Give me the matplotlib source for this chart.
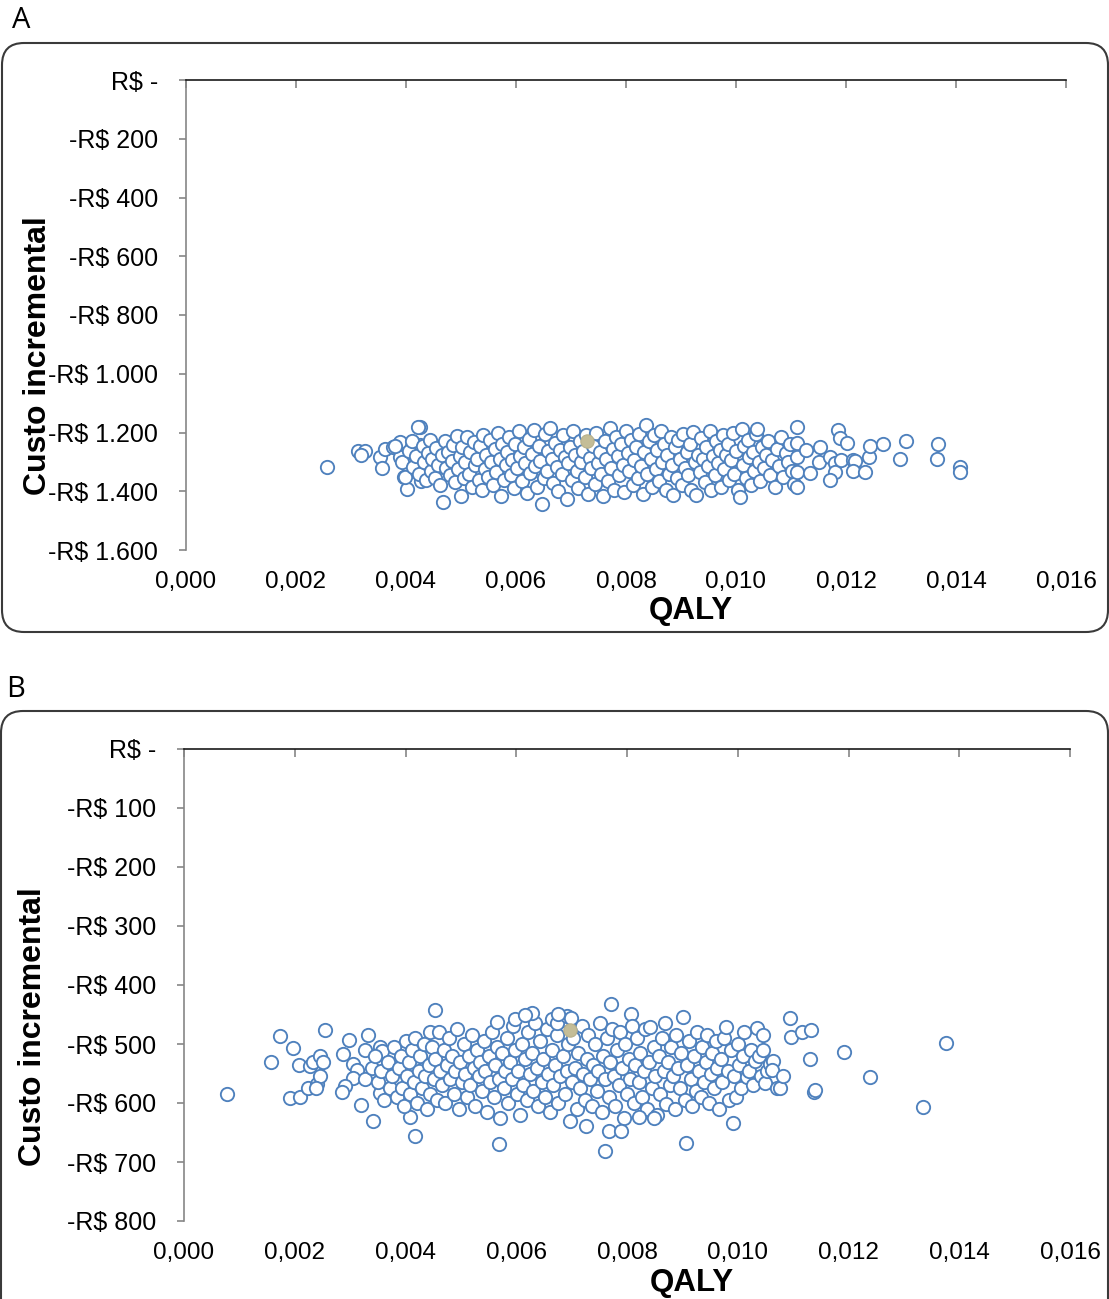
import matplotlib
matplotlib.use("Agg")
import matplotlib.pyplot as plt
from matplotlib.patches import FancyBboxPatch

# ---------------- DATA ----------------
# Panel A: (incremental QALY, incremental cost R$)
pontos_a_esquerda = [
    (0.00256, -1318), (0.00313, -1262), (0.00325, -1262), (0.00318, -1275),
    (0.00353, -1282), (0.00356, -1321), (0.00362, -1257), (0.00376, -1248),
    (0.00389, -1231), (0.00389, -1282), (0.00396, -1350), (0.00402, -1311),
    (0.00402, -1392), (0.00410, -1246), (0.00425, -1243), (0.00425, -1182),
    (0.00430, -1304), (0.00427, -1365),
]
pontos_a_nucleo = [
    (0.00380, -1245), (0.00392, -1300), (0.00398, -1350), (0.00405, -1262), (0.00410, -1228),
    (0.00412, -1318), (0.00418, -1280), (0.00421, -1182), (0.00424, -1340),
    (0.00430, -1246), (0.00433, -1300), (0.00436, -1362), (0.00440, -1270), (0.00443, -1225),
    (0.00445, -1330), (0.00448, -1290), (0.00452, -1355), (0.00455, -1252), (0.00458, -1310),
    (0.00462, -1380), (0.00468, -1435), (0.00465, -1278),
    (0.00470, -1230), (0.00473, -1320), (0.00476, -1265), (0.00480, -1345), (0.00483, -1296),
    (0.00486, -1242), (0.00489, -1370), (0.00492, -1212), (0.00495, -1325), (0.00498, -1280),
    (0.00500, -1416), (0.00502, -1250), (0.00505, -1355),
    (0.00508, -1300), (0.00511, -1215), (0.00514, -1340), (0.00517, -1268), (0.00520, -1385),
    (0.00523, -1232), (0.00526, -1310), (0.00529, -1290), (0.00532, -1360), (0.00535, -1245),
    (0.00538, -1395), (0.00540, -1208), (0.00543, -1325),
    (0.00546, -1275), (0.00549, -1350), (0.00552, -1225), (0.00555, -1300), (0.00558, -1378),
    (0.00561, -1255), (0.00564, -1335), (0.00567, -1200), (0.00570, -1290), (0.00572, -1416),
    (0.00575, -1240), (0.00578, -1360), (0.00581, -1310),
    (0.00584, -1268), (0.00587, -1215), (0.00590, -1345), (0.00593, -1292), (0.00596, -1388),
    (0.00599, -1238), (0.00602, -1322), (0.00605, -1196), (0.00608, -1280), (0.00611, -1365),
    (0.00614, -1250), (0.00617, -1305), (0.00620, -1405),
    (0.00623, -1222), (0.00626, -1338), (0.00629, -1272), (0.00632, -1190), (0.00635, -1315),
    (0.00638, -1385), (0.00641, -1245), (0.00644, -1298), (0.00647, -1445), (0.00650, -1355),
    (0.00653, -1205), (0.00656, -1330), (0.00659, -1262),
    (0.00662, -1185), (0.00665, -1290), (0.00668, -1372), (0.00671, -1235), (0.00674, -1318),
    (0.00677, -1400), (0.00680, -1258), (0.00683, -1342), (0.00686, -1210), (0.00689, -1285),
    (0.00692, -1425), (0.00695, -1305), (0.00698, -1248),
    (0.00701, -1360), (0.00704, -1195), (0.00707, -1275), (0.00710, -1332), (0.00713, -1390),
    (0.00716, -1228), (0.00719, -1300), (0.00722, -1262), (0.00725, -1350), (0.00728, -1210),
    (0.00731, -1408), (0.00734, -1288), (0.00737, -1320),
    (0.00740, -1245), (0.00743, -1375), (0.00746, -1200), (0.00749, -1305), (0.00752, -1268),
    (0.00755, -1340), (0.00758, -1415), (0.00761, -1230), (0.00764, -1290), (0.00767, -1365),
    (0.00770, -1185), (0.00773, -1320), (0.00776, -1255),
    (0.00779, -1395), (0.00782, -1215), (0.00785, -1280), (0.00788, -1345), (0.00791, -1240),
    (0.00794, -1310), (0.00797, -1402), (0.00800, -1195), (0.00803, -1270), (0.00806, -1330),
    (0.00809, -1225), (0.00812, -1380), (0.00815, -1295),
    (0.00818, -1250), (0.00821, -1355), (0.00824, -1205), (0.00827, -1315), (0.00830, -1410),
    (0.00833, -1265), (0.00836, -1174), (0.00839, -1340), (0.00842, -1230), (0.00845, -1290),
    (0.00848, -1385), (0.00851, -1210), (0.00854, -1325),
    (0.00857, -1260), (0.00860, -1365), (0.00863, -1195), (0.00866, -1300), (0.00869, -1240),
    (0.00872, -1395), (0.00875, -1275), (0.00878, -1340), (0.00881, -1215), (0.00884, -1310),
    (0.00886, -1413), (0.00889, -1250), (0.00892, -1355),
    (0.00895, -1225), (0.00898, -1290), (0.00901, -1380), (0.00904, -1205), (0.00907, -1320),
    (0.00910, -1265), (0.00913, -1345), (0.00916, -1238), (0.00919, -1395), (0.00922, -1197),
    (0.00925, -1300), (0.00928, -1413), (0.00931, -1275),
    (0.00934, -1335), (0.00937, -1218), (0.00940, -1290), (0.00943, -1370), (0.00946, -1250),
    (0.00949, -1315), (0.00952, -1195), (0.00955, -1395), (0.00958, -1280), (0.00961, -1345),
    (0.00964, -1230), (0.00967, -1305), (0.00970, -1260),
    (0.00973, -1385), (0.00976, -1210), (0.00979, -1325), (0.00982, -1275), (0.00985, -1240),
    (0.00988, -1360), (0.00991, -1295), (0.00994, -1200), (0.00997, -1340), (0.01000, -1262),
    (0.01003, -1395), (0.01007, -1421), (0.01010, -1189),
    (0.01012, -1310), (0.01015, -1245), (0.01018, -1355), (0.01021, -1225), (0.01024, -1285),
    (0.01027, -1380), (0.01030, -1265), (0.01033, -1330), (0.01036, -1205), (0.01038, -1189),
    (0.01041, -1300), (0.01044, -1365), (0.01047, -1250),
    (0.01050, -1320), (0.01054, -1275), (0.01058, -1230), (0.01062, -1345), (0.01066, -1295),
    (0.01070, -1385), (0.01074, -1255), (0.01078, -1315), (0.01082, -1215), (0.01086, -1350),
    (0.01090, -1270), (0.01094, -1300), (0.01098, -1240),
]
pontos_a_direita = [
    (0.01102, -1330), (0.01106, -1375), (0.01110, -1182), (0.01111, -1236), (0.01111, -1282),
    (0.01110, -1333), (0.01110, -1384), (0.01127, -1260), (0.01135, -1339), (0.01150, -1299),
    (0.01153, -1248), (0.01170, -1282), (0.01180, -1304), (0.01180, -1334), (0.01170, -1362),
    (0.01186, -1191), (0.01189, -1220), (0.01190, -1294), (0.01201, -1237), (0.01213, -1294),
    (0.01216, -1296), (0.01213, -1330), (0.01235, -1336), (0.01241, -1285), (0.01244, -1246),
    (0.01267, -1239), (0.01299, -1291), (0.01309, -1229), (0.01366, -1291), (0.01368, -1239),
    (0.01407, -1316), (0.01407, -1336),
]
ponto_medio_a = (0.00729, -1229)

# Panel B
pontos_b_esquerda = [
    (0.00077, -585), (0.00158, -531), (0.00173, -486), (0.00197, -506), (0.00191, -592),
    (0.00209, -590), (0.00208, -536), (0.00224, -575), (0.00228, -538), (0.00233, -530),
    (0.00246, -521), (0.00251, -530), (0.00240, -567), (0.00245, -554), (0.00239, -575),
    (0.00255, -476), (0.00287, -517), (0.00298, -493), (0.00306, -534), (0.00312, -544),
    (0.00306, -558), (0.00291, -572), (0.00285, -581), (0.00319, -603), (0.00341, -631),
    (0.00327, -560), (0.00332, -485), (0.00327, -510), (0.00354, -505), (0.00357, -512),
    (0.00354, -583), (0.00408, -623), (0.00417, -656), (0.00453, -442), (0.00444, -479),
]
pontos_b_nucleo = [
    (0.00340, -540), (0.00345, -520), (0.00350, -565), (0.00355, -545), (0.00362, -595),
    (0.00368, -530), (0.00372, -575), (0.00376, -555), (0.00380, -505), (0.00384, -590),
    (0.00388, -540), (0.00391, -520), (0.00394, -575), (0.00397, -605), (0.00400, -495),
    (0.00403, -555), (0.00406, -530), (0.00409, -585), (0.00412, -510), (0.00415, -565),
    (0.00418, -490), (0.00421, -600), (0.00424, -545),
    (0.00427, -520), (0.00430, -575), (0.00433, -500), (0.00436, -555), (0.00439, -610),
    (0.00442, -535), (0.00445, -585), (0.00448, -505), (0.00451, -560), (0.00454, -525),
    (0.00457, -595), (0.00460, -480), (0.00463, -545),
    (0.00466, -570), (0.00469, -510), (0.00472, -600), (0.00475, -535), (0.00478, -490),
    (0.00481, -560), (0.00484, -520), (0.00487, -585), (0.00490, -545), (0.00493, -475),
    (0.00496, -610), (0.00499, -530), (0.00502, -565),
    (0.00505, -500), (0.00508, -550), (0.00511, -590), (0.00514, -520), (0.00517, -570),
    (0.00520, -485), (0.00523, -540), (0.00526, -605), (0.00529, -510), (0.00532, -555),
    (0.00535, -530), (0.00538, -580), (0.00541, -495),
    (0.00544, -545), (0.00547, -615), (0.00550, -520), (0.00553, -565), (0.00556, -480),
    (0.00559, -590), (0.00562, -535), (0.00565, -505), (0.00568, -560), (0.00571, -625),
    (0.00574, -515), (0.00577, -575), (0.00580, -545),
    (0.00583, -490), (0.00586, -600), (0.00589, -530), (0.00592, -560), (0.00595, -470),
    (0.00598, -510), (0.00601, -585), (0.00604, -545), (0.00607, -620), (0.00610, -500),
    (0.00613, -570), (0.00616, -525), (0.00619, -595), (0.00622, -480),
    (0.00625, -550), (0.00628, -515), (0.00631, -580), (0.00634, -465), (0.00637, -540),
    (0.00640, -605), (0.00643, -495), (0.00646, -565), (0.00649, -525), (0.00652, -590),
    (0.00655, -475), (0.00658, -550), (0.00661, -615),
    (0.00664, -510), (0.00667, -570), (0.00670, -535), (0.00673, -485), (0.00676, -600),
    (0.00679, -555), (0.00682, -460), (0.00685, -520), (0.00688, -585), (0.00691, -545),
    (0.00694, -500), (0.00697, -630), (0.00700, -565),
    (0.00703, -490), (0.00706, -540), (0.00709, -610), (0.00712, -515), (0.00715, -575),
    (0.00718, -470), (0.00721, -550), (0.00724, -595), (0.00726, -639), (0.00727, -525),
    (0.00730, -485), (0.00733, -560), (0.00736, -605), (0.00739, -535),
    (0.00742, -500), (0.00745, -580), (0.00748, -545), (0.00751, -465), (0.00754, -615),
    (0.00757, -520), (0.00760, -681), (0.00761, -560), (0.00764, -490), (0.00767, -590),
    (0.00770, -530), (0.00771, -433), (0.00773, -475), (0.00776, -555),
    (0.00779, -605), (0.00782, -510), (0.00785, -570), (0.00788, -480), (0.00791, -540),
    (0.00794, -625), (0.00797, -500), (0.00800, -585), (0.00803, -525), (0.00806, -560),
    (0.00807, -449), (0.00809, -470), (0.00812, -600), (0.00815, -535),
    (0.00818, -490), (0.00821, -565), (0.00824, -515), (0.00827, -590), (0.00830, -545),
    (0.00833, -475), (0.00836, -610), (0.00839, -530), (0.00842, -471), (0.00845, -575),
    (0.00848, -505), (0.00851, -555), (0.00854, -620),
    (0.00857, -520), (0.00860, -585), (0.00863, -490), (0.00866, -545), (0.00869, -465),
    (0.00871, -601), (0.00874, -530), (0.00877, -570), (0.00880, -505), (0.00883, -555),
    (0.00886, -611), (0.00889, -485), (0.00892, -540),
    (0.00895, -575), (0.00898, -515), (0.00901, -455), (0.00904, -595), (0.00907, -668),
    (0.00909, -535), (0.00912, -495), (0.00915, -560), (0.00918, -605), (0.00921, -520),
    (0.00924, -580), (0.00927, -480), (0.00930, -545),
    (0.00933, -590), (0.00936, -505), (0.00939, -565), (0.00942, -530), (0.00945, -485),
    (0.00948, -600), (0.00951, -550), (0.00954, -515), (0.00957, -575), (0.00960, -495),
    (0.00963, -540), (0.00966, -611), (0.00969, -525),
    (0.00972, -565), (0.00975, -490), (0.00979, -471), (0.00982, -545), (0.00985, -595),
    (0.00988, -510), (0.00991, -634), (0.00994, -555), (0.00997, -590), (0.01000, -500),
    (0.01003, -535), (0.01006, -575), (0.01009, -520),
    (0.01012, -480), (0.01016, -556), (0.01020, -545), (0.01024, -510), (0.01028, -570),
    (0.01032, -528), (0.01034, -473), (0.01038, -520), (0.01042, -555), (0.01045, -485),
    (0.01046, -510), (0.01049, -566), (0.01052, -545), (0.01058, -534), (0.01064, -528),
    (0.01062, -544), (0.01070, -575), (0.01077, -575), (0.01082, -555),
    (0.00664, -458), (0.00673, -465), (0.00691, -452), (0.00699, -456), (0.00565, -462),
    (0.00598, -458), (0.00628, -447), (0.00616, -451), (0.00676, -449),
    (0.00767, -647), (0.00789, -648), (0.00848, -625), (0.00821, -623), (0.00569, -669),
]
pontos_b_direita = [
    (0.01094, -456), (0.01096, -488), (0.01116, -479), (0.01133, -476), (0.01131, -525),
    (0.01138, -581), (0.01139, -578), (0.01192, -514), (0.01239, -556), (0.01335, -607),
    (0.01376, -499),
]
ponto_medio_b = (0.00697, -476)

qaly_a = [p[0] for p in pontos_a_esquerda + pontos_a_nucleo + pontos_a_direita]
custo_a = [p[1] for p in pontos_a_esquerda + pontos_a_nucleo + pontos_a_direita]
qaly_b = [p[0] for p in pontos_b_esquerda + pontos_b_nucleo + pontos_b_direita]
custo_b = [p[1] for p in pontos_b_esquerda + pontos_b_nucleo + pontos_b_direita]

x_ticks = [0.000, 0.002, 0.004, 0.006, 0.008, 0.010, 0.012, 0.014, 0.016]
x_tick_labels = ["0,000", "0,002", "0,004", "0,006", "0,008", "0,010", "0,012", "0,014", "0,016"]
y_ticks_a = [0, -200, -400, -600, -800, -1000, -1200, -1400, -1600]
y_labels_a = ["R$ -", "-R$ 200", "-R$ 400", "-R$ 600", "-R$ 800", "-R$ 1.000",
              "-R$ 1.200", "-R$ 1.400", "-R$ 1.600"]
y_ticks_b = [0, -100, -200, -300, -400, -500, -600, -700, -800]
y_labels_b = ["R$ -", "-R$ 100", "-R$ 200", "-R$ 300", "-R$ 400", "-R$ 500",
              "-R$ 600", "-R$ 700", "-R$ 800"]

# ---------------- STYLE ----------------
W, H = 1109, 1299
plt.rcParams['font.family'] = ['Liberation Sans', 'DejaVu Sans']
fig = plt.figure(figsize=(W / 100, H / 100), dpi=100)

BLUE = '#4F81BD'
TAN = '#C4BD97'
GRAY = '#868686'


def px_rect(l, t, r, b):
    return [l / W, 1 - b / H, (r - l) / W, (b - t) / H]


def make_panel(rect, qx, cy, mid, yticks, ylabels, ylim_low, ylab_pos, xlab_pos):
    ax = fig.add_axes(rect)
    ax.scatter(qx, cy, s=92, facecolors='white', edgecolors=BLUE, linewidths=1.35, zorder=3)
    ax.scatter([mid[0]], [mid[1]], s=92, facecolors=TAN, edgecolors='#B8B08A', linewidths=0.8, zorder=4)
    ax.set_xlim(0, 0.016)
    ax.set_ylim(ylim_low, 0)
    ax.set_xticks(x_ticks)
    ax.set_xticklabels(x_tick_labels)
    ax.set_yticks(yticks)
    ax.set_yticklabels(ylabels)
    for s in ['right', 'bottom']:
        ax.spines[s].set_visible(False)
    ax.spines['top'].set_color('#1a1a1a')
    ax.spines['top'].set_linewidth(1.2)
    ax.spines['left'].set_color(GRAY)
    ax.spines['left'].set_linewidth(1.2)
    ax.tick_params(axis='x', which='major', top=True, bottom=False, labeltop=False,
                   labelbottom=True, direction='in', length=6, width=1.2, color=GRAY,
                   pad=15, labelsize=17.5)
    ax.tick_params(axis='y', which='major', left=True, direction='out', length=5,
                   width=1.2, color=GRAY, pad=15, labelsize=18)
    ax.set_facecolor('none')
    fig.text(ylab_pos[0] / W, 1 - ylab_pos[1] / H, 'Custo incremental', rotation=90,
             ha='center', va='center', fontsize=23, fontweight='bold')
    fig.text(xlab_pos[0] / W, 1 - xlab_pos[1] / H, 'QALY', ha='center', va='center',
             fontsize=22.5, fontweight='bold')
    return ax


# rounded frames (in inches)
frame_a = FancyBboxPatch((0.02, (H - 632) / 100), 11.06, 5.89,
                         boxstyle="round,pad=0,rounding_size=0.22",
                         transform=fig.dpi_scale_trans, facecolor='none',
                         edgecolor='#3a3a3a', linewidth=1.5)
frame_b = FancyBboxPatch((0.01, -0.3), 11.07, (H - 711) / 100 + 0.3,
                         boxstyle="round,pad=0,rounding_size=0.22",
                         transform=fig.dpi_scale_trans, facecolor='none',
                         edgecolor='#3a3a3a', linewidth=1.5)
fig.patches.extend([frame_a, frame_b])

make_panel(px_rect(186, 80, 1066, 550), qaly_a, custo_a, ponto_medio_a,
           y_ticks_a, y_labels_a, -1600, (38, 356), (691, 611))
make_panel(px_rect(184, 749, 1070, 1221), qaly_b, custo_b, ponto_medio_b,
           y_ticks_b, y_labels_b, -800, (33, 1027), (692, 1283))

fig.text(12 / W, 1 - 20 / H, 'A', ha='left', va='center', fontsize=21,
         family=['Open Sans', 'DejaVu Sans'])
fig.text(6 / W, 1 - 690 / H, 'B', ha='left', va='center', fontsize=21,
         family=['Open Sans', 'DejaVu Sans'])

fig.savefig('out.png', dpi=100)
